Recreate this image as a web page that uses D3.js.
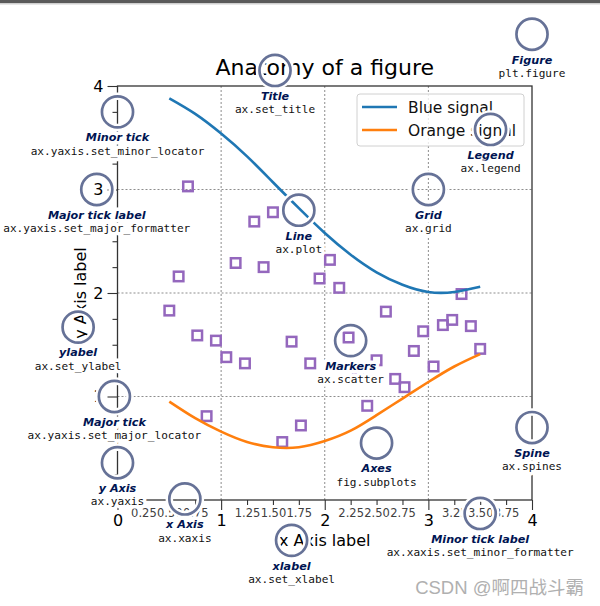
<!DOCTYPE html>
<html>
<head>
<meta charset="utf-8">
<script src="https://cdn.jsdelivr.net/npm/d3@7/dist/d3.min.js"></script>
<style>
  html, body { margin: 0; padding: 0; background: #fff; }
  svg { display: block; font-family: 'DejaVu Sans', sans-serif; }
</style>
</head>
<body>
<div id="chart"></div>
<script>
// signals
const lineX = [0.5, 0.75, 1.0, 1.25, 1.5, 1.75, 2.0, 2.25, 2.5, 2.75, 3.0, 3.25, 3.5];
const blueY = [3.88, 3.73, 3.54, 3.32, 3.07, 2.82, 2.58, 2.37, 2.20, 2.08, 2.01, 2.01, 2.06];
const orangeY = [0.95, 0.79, 0.66, 0.56, 0.51, 0.51, 0.57, 0.67, 0.82, 0.98, 1.14, 1.29, 1.41];

// scatter markers
const markerX = [0.50, 0.59, 0.68, 0.77, 0.86, 0.95, 1.05, 1.14, 1.23, 1.32, 1.41, 1.50,
                 1.59, 1.68, 1.77, 1.86, 1.95, 2.05, 2.14, 2.23, 2.32, 2.41, 2.50, 2.59,
                 2.68, 2.77, 2.86, 2.95, 3.05, 3.14, 3.23, 3.32, 3.41, 3.50];
const markerY = [1.83, 2.16, 3.03, 1.59, 0.81, 1.54, 1.38, 2.29, 1.32, 2.69, 2.25, 2.78,
                 0.56, 1.53, 0.72, 1.32, 2.14, 2.32, 2.05, 1.57, 1.27, 0.91, 1.35, 1.82,
                 1.17, 1.09, 1.44, 1.63, 1.29, 1.69, 1.74, 1.99, 1.68, 1.46];

// ticks
const majorTicks = [0, 1, 2, 3, 4];
const minorTicks = [0.25, 0.5, 0.75, 1.25, 1.5, 1.75, 2.25, 2.5, 2.75, 3.25, 3.5, 3.75];

const seriesNames = ['Blue signal', 'Orange signal'];
const seriesColors = ['#1f77b4', '#ff7f0e'];

// annotations (data coordinates)
const annoNames = ['Minor tick label', 'Major tick', 'Minor tick', 'Major tick label', 'xlabel',
                   'ylabel', 'Title', 'Line', 'Markers', 'Grid', 'Legend', 'Axes', 'Figure',
                   'x Axis', 'y Axis', 'Spine'];
const annoCodes = ['ax.xaxis.set_minor_formatter', 'ax.yaxis.set_major_locator',
                   'ax.yaxis.set_minor_locator', 'ax.yaxis.set_major_formatter', 'ax.set_xlabel',
                   'ax.set_ylabel', 'ax.set_title', 'ax.plot', 'ax.scatter', 'ax.grid', 'ax.legend',
                   'fig.subplots', 'plt.figure', 'ax.xaxis', 'ax.yaxis', 'ax.spines'];
const annoX = [3.5, -0.03, 0.0, -0.2, 1.68, -0.38, 1.52, 1.75, 2.25, 3.0, 3.6, 2.5, 4.0, 0.65, 0.0, 4.0];
const annoY = [-0.13, 1.0, 3.75, 3.0, -0.39, 1.67, 4.15, 2.8, 1.54, 3.0, 3.58, 0.55, 4.5, 0.01, 0.36, 0.7];


const width = 600;
const height = 606;
const royalBlue = '#001452';
const ringColor = 'rgba(0, 20, 82, 0.6)';

const svg = d3.select('#chart')
  .append('svg')
  .attr('width', width)
  .attr('height', height);

// screenshot edge at the top
svg.append('rect').attr('x', 0).attr('y', 0).attr('width', width).attr('height', 3).attr('fill', '#5a5a5a');
svg.append('rect').attr('x', 0).attr('y', 3).attr('width', width).attr('height', 1.5).attr('fill', '#cfcfcf');

const x = d3.scaleLinear().domain([0, 4]).range([117.5, 532]);
const y = d3.scaleLinear().domain([0, 4]).range([500, 86]);

// grid
const grid = svg.append('g')
  .attr('stroke', '#404040')
  .attr('stroke-width', 0.6)
  .attr('stroke-dasharray', '2,2');

grid.selectAll('.gx')
  .data(majorTicks.slice(1, -1))
  .enter()
  .append('line')
  .attr('x1', d => x(d)).attr('x2', d => x(d))
  .attr('y1', y(0)).attr('y2', y(4));

grid.selectAll('.gy')
  .data(majorTicks.slice(1, -1))
  .enter()
  .append('line')
  .attr('y1', d => y(d)).attr('y2', d => y(d))
  .attr('x1', x(0)).attr('x2', x(4));

// axes
function styleAxis(g, size, color) {
  g.select('.domain').remove();
  g.attr('font-family', 'DejaVu Sans').attr('font-size', size);
  g.selectAll('.tick line').attr('stroke', '#333').attr('stroke-width', 1.1);
  g.selectAll('.tick text').attr('fill', color);
}

svg.append('g')
  .attr('transform', `translate(0,${y(0)})`)
  .call(d3.axisBottom(x).tickValues(minorTicks).tickSize(5).tickPadding(3.5).tickFormat(d3.format('.2f')))
  .call(g => styleAxis(g, 11.5, '#404040'));

svg.append('g')
  .attr('transform', `translate(0,${y(0)})`)
  .call(d3.axisBottom(x).tickValues(majorTicks).tickSize(10).tickPadding(5).tickFormat(d3.format('d')))
  .call(g => styleAxis(g, 16, '#000'));

svg.append('g')
  .attr('transform', `translate(${x(0)},0)`)
  .call(d3.axisLeft(y).tickValues(minorTicks).tickSize(5).tickFormat(''))
  .call(g => styleAxis(g, 11.5, '#404040'));

// the y "0" label sits under the "ax.yaxis" note, so it is left blank
svg.append('g')
  .attr('transform', `translate(${x(0)},0)`)
  .call(d3.axisLeft(y).tickValues(majorTicks).tickSize(10).tickPadding(4).tickFormat(d => d === 0 ? '' : d3.format('d')(d)))
  .call(g => styleAxis(g, 16, '#000'));

// markers
svg.append('g')
  .selectAll('rect')
  .data(markerX.map((d, i) => [d, markerY[i]]))
  .enter()
  .append('rect')
  .attr('x', d => x(d[0]) - 4.75)
  .attr('y', d => y(d[1]) - 4.75)
  .attr('width', 9.5)
  .attr('height', 9.5)
  .attr('fill', 'none')
  .attr('stroke', '#9467bd')
  .attr('stroke-width', 2.5);

// lines
const line = d3.line()
  .x(d => x(d[0]))
  .y(d => y(d[1]))
  .curve(d3.curveNatural);

[blueY, orangeY].forEach((ys, i) => {
  svg.append('path')
    .datum(lineX.map((d, j) => [d, ys[j]]))
    .attr('d', line)
    .attr('fill', 'none')
    .attr('stroke', seriesColors[i])
    .attr('stroke-width', 2.6);
});

// spines
svg.append('rect')
  .attr('x', x(0))
  .attr('y', y(4))
  .attr('width', x(4) - x(0))
  .attr('height', y(0) - y(4))
  .attr('fill', 'none')
  .attr('stroke', '#333')
  .attr('stroke-width', 1.3);

// title and axis labels
svg.append('text')
  .attr('x', x(2))
  .attr('y', y(4) - 11)
  .attr('text-anchor', 'middle')
  .attr('font-size', 22)
  .text('Anatomy of a figure');

svg.append('text')
  .attr('x', x(2))
  .attr('y', y(0) + 46)
  .attr('text-anchor', 'middle')
  .attr('font-size', 16)
  .text('x Axis label');

svg.append('text')
  .attr('transform', `translate(${x(0) - 32},${y(2)}) rotate(-90)`)
  .attr('text-anchor', 'middle')
  .attr('font-size', 16)
  .text('y Axis label');

// legend
const legend = svg.append('g')
  .attr('transform', `translate(${x(4) - 175},${y(4) + 8})`);

legend.append('rect')
  .attr('width', 167)
  .attr('height', 52)
  .attr('rx', 3)
  .attr('fill', 'rgba(255,255,255,0.8)')
  .attr('stroke', '#d0d0d0');

seriesNames.forEach((name, i) => {
  legend.append('line')
    .attr('x1', 5).attr('x2', 40)
    .attr('y1', 13 + i * 23).attr('y2', 13 + i * 23)
    .attr('stroke', seriesColors[i])
    .attr('stroke-width', 2.6);
  legend.append('text')
    .attr('x', 51)
    .attr('y', 19 + i * 23)
    .attr('font-size', 15.5)
    .attr('fill', '#111')
    .text(name);
});

// annotation circles
const anno = annoNames.map((name, i) => ({ name, code: annoCodes[i], ax: annoX[i], ay: annoY[i] }));

const rings = svg.append('g');
rings.selectAll('.halo')
  .data(anno)
  .enter()
  .append('circle')
  .attr('cx', d => x(d.ax))
  .attr('cy', d => y(d.ay))
  .attr('r', x(0.15) - x(0))
  .attr('fill', 'none')
  .attr('stroke', '#fff')
  .attr('stroke-width', 7.5);

rings.selectAll('.ring')
  .data(anno)
  .enter()
  .append('circle')
  .attr('cx', d => x(d.ax))
  .attr('cy', d => y(d.ay))
  .attr('r', x(0.15) - x(0))
  .attr('fill', 'none')
  .attr('stroke', ringColor)
  .attr('stroke-width', 2.7);

// annotation texts, with a white halo behind them
const notes = svg.append('g')
  .attr('text-anchor', 'middle')
  .attr('stroke', '#fff')
  .attr('stroke-width', 7)
  .attr('stroke-linejoin', 'round')
  .style('paint-order', 'stroke');

anno.forEach(d => {
  notes.append('text')
    .attr('x', x(d.ax))
    .attr('y', y(d.ay - 0.2) + 8.6)
    .attr('font-size', 11.2)
    .attr('font-weight', 'bold')
    .attr('font-style', 'italic')
    .attr('fill', royalBlue)
    .text(d.name);
  notes.append('text')
    .attr('x', x(d.ax))
    .attr('y', y(d.ay - 0.33) + 8.6)
    .attr('font-family', 'DejaVu Sans Mono')
    .attr('font-size', 11.1)
    .attr('fill', '#111')
    .text(d.code);
});

// watermark
svg.append('text')
  .attr('x', 584)
  .attr('y', 594)
  .attr('text-anchor', 'end')
  .attr('font-family', "'Liberation Sans', 'Noto Sans CJK SC'")
  .attr('font-size', 18.5)
  .attr('fill', '#b0b0b0')
  .text('CSDN @啊四战斗霸');
</script>
</body>
</html>
